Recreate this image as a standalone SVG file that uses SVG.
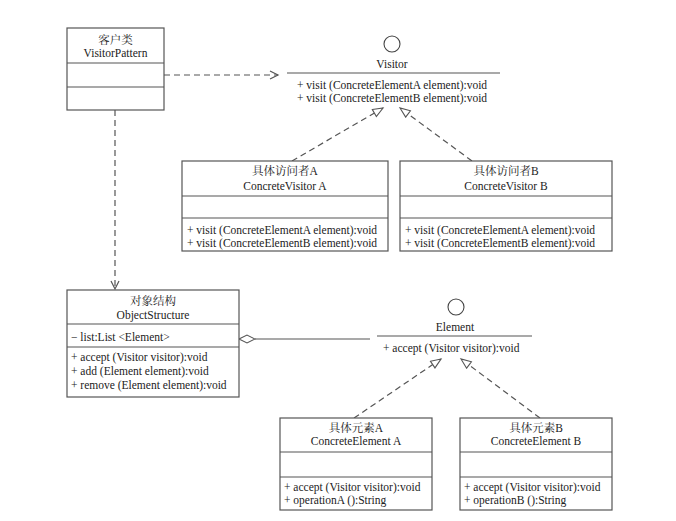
<svg xmlns="http://www.w3.org/2000/svg" width="676" height="521" viewBox="0 0 676 521">
<defs>
<style>
.box{fill:#fff;stroke:#555;stroke-width:1.2}
.ln{stroke:#555;stroke-width:1.2;fill:none}
.dash{stroke:#555;stroke-width:1.2;fill:none;stroke-dasharray:6,4}
text{font-family:"Liberation Serif","Noto Serif CJK SC","Noto Sans CJK SC",serif;font-size:11.5px;fill:#222}
.c{text-anchor:middle}
</style>
<marker id="tri" markerUnits="userSpaceOnUse" markerWidth="14" markerHeight="12" refX="11" refY="5" orient="auto">
<path d="M1,1 L11,5 L1,9 z" fill="#fff" stroke="#555" stroke-width="1.1"/>
</marker>
<marker id="open" markerUnits="userSpaceOnUse" markerWidth="12" markerHeight="12" refX="9" refY="5" orient="auto">
<path d="M1,1 L9,5 L1,9" fill="none" stroke="#555" stroke-width="1.2"/>
</marker>
</defs>
<rect width="676" height="521" fill="#fff"/>

<g id="connectors">
<line class="dash" x1="164" y1="75" x2="278" y2="75" marker-end="url(#open)"/>
<line class="dash" x1="115" y1="110" x2="115" y2="289" marker-end="url(#open)"/>
<line class="dash" x1="292" y1="161" x2="383" y2="108" marker-end="url(#tri)"/>
<line class="dash" x1="472" y1="161" x2="400" y2="108" marker-end="url(#tri)"/>
<line class="dash" x1="354" y1="418" x2="441" y2="359" marker-end="url(#tri)"/>
<line class="dash" x1="540" y1="418" x2="461" y2="359" marker-end="url(#tri)"/>
<line class="ln" x1="255" y1="339" x2="370" y2="339"/>
<polygon points="239,339 247,335 255,339 247,343" fill="#fff" stroke="#555" stroke-width="1.1"/>
</g>

<g id="client">
<rect class="box" x="67" y="28" width="97" height="82"/>
<line class="ln" x1="67" y1="63" x2="164" y2="63"/>
<line class="ln" x1="67" y1="87" x2="164" y2="87"/>
<text class="c" x="115.5" y="44">客户类</text>
<text class="c" x="115.5" y="57">VisitorPattern</text>
</g>

<g id="visitor">
<circle cx="392" cy="44" r="8" fill="#fff" stroke="#444" stroke-width="1.1"/>
<text class="c" x="392" y="68">Visitor</text>
<line class="ln" x1="287" y1="73" x2="500" y2="73"/>
<text x="297" y="89">+ visit (ConcreteElementA element):void</text>
<text x="297" y="102">+ visit (ConcreteElementB element):void</text>
</g>

<g id="concreteVisitorA">
<rect class="box" x="182" y="161" width="206" height="90"/>
<line class="ln" x1="182" y1="196" x2="388" y2="196"/>
<line class="ln" x1="182" y1="218" x2="388" y2="218"/>
<text class="c" x="285" y="175">具体访问者A</text>
<text class="c" x="285" y="190">ConcreteVisitor A</text>
<text x="187" y="234">+ visit (ConcreteElementA element):void</text>
<text x="187" y="247">+ visit (ConcreteElementB element):void</text>
</g>

<g id="concreteVisitorB">
<rect class="box" x="400" y="161" width="212" height="90"/>
<line class="ln" x1="400" y1="196" x2="612" y2="196"/>
<line class="ln" x1="400" y1="218" x2="612" y2="218"/>
<text class="c" x="506" y="175">具体访问者B</text>
<text class="c" x="506" y="190">ConcreteVisitor B</text>
<text x="405" y="234">+ visit (ConcreteElementA element):void</text>
<text x="405" y="247">+ visit (ConcreteElementB element):void</text>
</g>

<g id="objectStructure">
<rect class="box" x="67" y="290" width="172" height="107"/>
<line class="ln" x1="67" y1="324" x2="239" y2="324"/>
<line class="ln" x1="67" y1="347" x2="239" y2="347"/>
<text class="c" x="153" y="305">对象结构</text>
<text class="c" x="153" y="319">ObjectStructure</text>
<text x="71" y="341">− list:List &lt;Element&gt;</text>
<text x="71" y="361">+ accept (Visitor visitor):void</text>
<text x="71" y="375">+ add (Element element):void</text>
<text x="71" y="389">+ remove (Element element):void</text>
</g>

<g id="element">
<circle cx="456" cy="307" r="8" fill="#fff" stroke="#444" stroke-width="1.1"/>
<text class="c" x="455" y="331">Element</text>
<line class="ln" x1="377" y1="336" x2="532" y2="336"/>
<text x="383" y="352">+ accept (Visitor visitor):void</text>
</g>

<g id="concreteElementA">
<rect class="box" x="280" y="418" width="152" height="92"/>
<line class="ln" x1="280" y1="452" x2="432" y2="452"/>
<line class="ln" x1="280" y1="477" x2="432" y2="477"/>
<text class="c" x="356" y="432">具体元素A</text>
<text class="c" x="356" y="445">ConcreteElement A</text>
<text x="284" y="491">+ accept (Visitor visitor):void</text>
<text x="284" y="504">+ operationA ():String</text>
</g>

<g id="concreteElementB">
<rect class="box" x="460" y="418" width="152" height="92"/>
<line class="ln" x1="460" y1="452" x2="612" y2="452"/>
<line class="ln" x1="460" y1="477" x2="612" y2="477"/>
<text class="c" x="536" y="432">具体元素B</text>
<text class="c" x="536" y="445">ConcreteElement B</text>
<text x="464" y="491">+ accept (Visitor visitor):void</text>
<text x="464" y="504">+ operationB ():String</text>
</g>
</svg>
